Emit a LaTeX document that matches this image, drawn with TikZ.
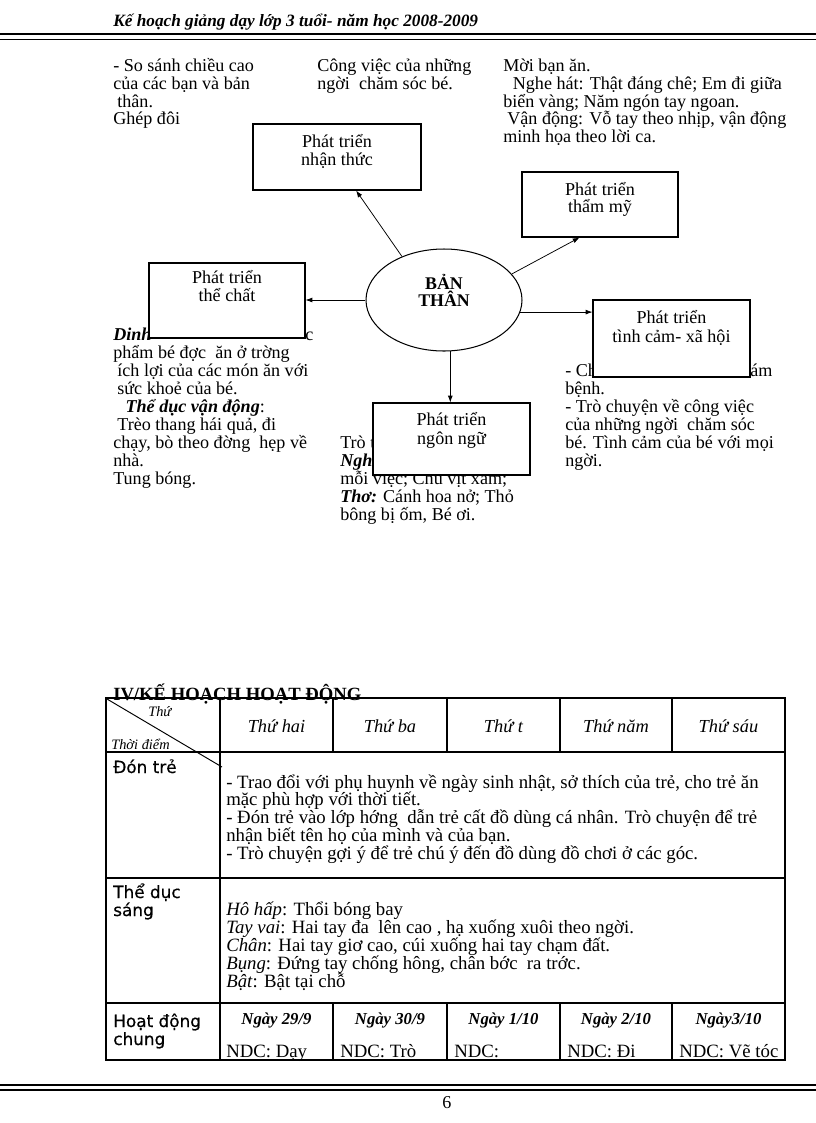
\documentclass[tikz,border=0pt]{standalone}
\usepackage{fontspec}
\setmainfont{Liberation Serif}
\newfontfamily\labfont[FakeBold=0.6]{DejaVu Sans}
\usetikzlibrary{arrows.meta,calc,shapes.geometric}
\begin{document}
\begin{tikzpicture}[x=0.7295pt,y=-0.7295pt,
  txt/.style={anchor=base west,inner sep=0pt,font=\fontsize{13.2}{15}\selectfont},
  ttxt/.style={anchor=base west,inner sep=0pt,font=\fontsize{13.7}{15}\selectfont},
  ctr/.style={anchor=base,inner sep=0pt,font=\fontsize{13.2}{15}\selectfont},
  boxn/.style={draw,fill=white,line width=0.75pt,inner sep=0pt,rectangle},
  arr/.style={-{Latex[length=5pt,width=3.6pt]},line width=0.55pt},
  tline/.style={line width=0.9pt},
  lab/.style={anchor=base west,inner sep=0pt,font=\labfont\fontsize{12.3}{14}\selectfont},
  hdr/.style={anchor=base,inner sep=0pt,font=\itshape\fontsize{13.4}{15}\selectfont},
  day/.style={anchor=base,inner sep=0pt,font=\bfseries\itshape\fontsize{12.2}{14}\selectfont},
  bi/.style={font=\bfseries\itshape\fontsize{13.2}{15}\selectfont},
]
\useasboundingbox (0,0) rectangle (816,1123);

% ---------- page header ----------
\node[txt,font=\bfseries\itshape\fontsize{12.6}{14}\selectfont] (title) at (113,26) {Kế hoạch giảng dạy lớp 3 tuổi- năm học 2008-2009};
\draw[line width=2pt] (0,34) -- (816,34);
\draw[line width=0.9pt] (0,39.3) -- (816,39.3);

% ---------- top text columns ----------
\foreach \t [count=\i] in {{- So sánh chiều cao},{của các bạn và bản},{\hspace*{3pt}thân.},{Ghép đôi}}
  \node[txt] (a\i) at (113,{71.5+17.8*(\i-1)}) {\t};
\foreach \t [count=\i] in {{Công việc của những},{ngời\ \ chăm sóc bé.}}
  \node[txt] (m\i) at (317,{71.5+17.8*(\i-1)}) {\t};
\foreach \t [count=\i] in {{Mời bạn ăn.},{\hspace*{7pt}Nghe hát: Thật đáng chê; Em đi giữa},{biển vàng; Năm ngón tay ngoan.},{\hspace*{3pt}Vận động: Vỗ tay theo nhịp, vận động},{minh họa theo lời ca.}}
  \node[txt] (r\i) at (503,{71.5+17.8*(\i-1)}) {\t};

% ---------- lower text columns ----------
\node[txt,bi] (l0) at (113,340.6) {Dinh};
\node[txt] (l0b) at (305,340.6) {c};
\foreach \t [count=\i] in {{phẩm bé đợc\ \ ăn ở trờng},{\hspace*{3pt}ích lợi của các món ăn với},{\hspace*{3pt}sức khoẻ của bé.},{\hspace*{9pt}\textbf{\textit{Thể dục vận động}}:},{\hspace*{3pt}Trèo thang hái quả, đi},{chạy, bò theo đờng\ \ hẹp về},{nhà.},{Tung bóng.}}
  \node[txt] (l\i) at (113,{340.6+18*\i}) {\t};

\node[txt] (n0) at (340,448.6) {Trò t};
\node[txt,bi] (n0b) at (340,466.6) {Ngh};
\foreach \t [count=\i] in {{mỗi việc; Chú vịt xám;},{\textbf{\textit{Thơ:}} Cánh hoa nở; Thỏ},{bông bị ốm, Bé ơi.}}
  \node[txt] (n\i) at (340,{466.6+18*\i}) {\t};

\node[txt] (s0) at (565,376.6) {- Ch};
\node[txt] (s0b) at (750,376.6) {ám};
\foreach \t [count=\i] in {{bệnh.},{- Trò chuyện về công việc},{của những ngời\ \ chăm sóc},{bé. Tình cảm của bé với mọi},{ngời.}}
  \node[txt] (s\i) at (565,{376.6+18*\i}) {\t};

% ---------- mind map ----------
\node[boxn,minimum width={168*0.7295pt},minimum height={66*0.7295pt}] (nt) at (337,157) {};
\node[boxn,minimum width={156*0.7295pt},minimum height={65*0.7295pt}] (tm) at (600,204.5) {};
\node[boxn,minimum width={156*0.7295pt},minimum height={75*0.7295pt}] (tc) at (227,300.5) {};
\node[boxn,minimum width={157*0.7295pt},minimum height={77*0.7295pt}] (tx) at (671.5,338.5) {};
\node[boxn,minimum width={157*0.7295pt},minimum height={72*0.7295pt}] (nn) at (451.5,439) {};
\node[draw,ellipse,fill=white,line width=0.75pt,inner sep=0pt,minimum width={156*0.7295pt},minimum height={102*0.7295pt}] (ell) at (444,300) {};

\node[ctr] (nt1) at (337,147) {Phát triển};
\node[ctr] (nt2) at (337,165) {nhận thức};
\node[ctr] (tm1) at (600,195) {Phát triển};
\node[ctr] (tm2) at (600,212) {thẩm mỹ};
\node[ctr] (tc1) at (227,283) {Phát triển};
\node[ctr] (tc2) at (227,301) {thể chất};
\node[ctr] (tx1) at (671.5,323) {Phát triển};
\node[ctr] (tx2) at (671.5,342) {tình cảm- xã hội};
\node[ctr] (nn1) at (451.5,425) {Phát triển};
\node[ctr] (nn2) at (451.5,444) {ngôn ngữ};
\node[ctr,font=\bfseries\fontsize{13}{15}\selectfont] (e1) at (444,289) {BẢN};
\node[ctr,font=\bfseries\fontsize{13}{15}\selectfont] (e2) at (444,306) {THÂN};

\draw[arr] (ell.134) -- ($(nt.south west)!0.613!(nt.south east)$);
\draw[arr] (ell.21) -- ($(tm.south west)!0.37!(tm.south east)$);
\draw[arr] (ell.west) -- (ell.west -| tc.east);
\draw[arr] (ell.-9.5) -- (ell.-9.5 -| tx.west);
\draw[arr] (ell.-83.3) -- (ell.-83.3 |- nn.north);

% ---------- plan table ----------
\node[txt,font=\bfseries\fontsize{13.6}{15}\selectfont] (iv) at (113,700) {IV/KẾ HOẠCH HOẠT ĐỘNG};
\draw[tline] (106,698) rectangle (785,1060);
\draw[tline] (106,752) -- (785,752);
\draw[tline] (106,878) -- (785,878);
\draw[tline] (106,1003) -- (785,1003);
\draw[tline] (220,698) -- (220,1060);
\foreach \x in {333,447,560,672} {
  \draw[tline] (\x,698) -- (\x,752);
  \draw[tline] (\x,1003) -- (\x,1060);
}
\draw[line width=0.7pt] (107,699) -- (222,767);

\node[txt,font=\itshape\fontsize{10.5}{12}\selectfont] (th0) at (148,716) {Thứ};
\node[txt,font=\itshape\fontsize{10.5}{12}\selectfont] (td0) at (111,749) {Thời điểm};
\node[hdr] (h1) at (276.5,732) {Thứ hai};
\node[hdr] (h2) at (390,732) {Thứ ba};
\node[hdr] (h3) at (503.5,732) {Thứ t};
\node[hdr] (h4) at (616,732) {Thứ năm};
\node[hdr] (h5) at (728.5,732) {Thứ sáu};

\node[lab] (rl1) at (113,773) {Đón trẻ};
\node[lab] (rl2) at (113,898) {Thể dục};
\node[lab] (rl3) at (113,916) {sáng};
\node[lab] (rl4) at (113,1027) {Hoạt động};
\node[lab] (rl5) at (113,1045) {chung};

\foreach \t [count=\i] in {{- Trao đổi với phụ huynh về ngày sinh nhật, sở thích của trẻ, cho trẻ ăn},{mặc phù hợp với thời tiết.},{- Đón trẻ vào lớp hớng\ \ dẫn trẻ cất đồ dùng cá nhân. Trò chuyện để trẻ},{nhận biết tên họ của mình và của bạn.},{- Trò chuyện gợi ý để trẻ chú ý đến đồ dùng đồ chơi ở các góc.}}
  \node[ttxt] (d\i) at (226,{788+17.75*(\i-1)}) {\t};

\foreach \t [count=\i] in {{\textit{Hô hấp}: Thổi bóng bay},{\textit{Tay vai}: Hai tay đa\ \ lên cao , hạ xuống xuôi theo ngời.},{\textit{Chân}: Hai tay giơ cao, cúi xuống hai tay chạm đất.},{\textit{Bụng}: Đứng tay chống hông, chân bớc\ \ ra trớc.},{\textit{Bật}: Bật tại chỗ}}
  \node[ttxt] (g\i) at (226,{915+18*(\i-1)}) {\t};

\node[day] (y1) at (276.5,1024) {Ngày 29/9};
\node[day] (y2) at (390,1024) {Ngày 30/9};
\node[day] (y3) at (503.5,1024) {Ngày 1/10};
\node[day] (y4) at (616,1024) {Ngày 2/10};
\node[day] (y5) at (728.5,1024) {Ngày3/10};
\node[ttxt] (c1) at (226,1057) {NDC: Dạy};
\node[ttxt] (c2) at (340,1057) {NDC: Trò};
\node[ttxt] (c3) at (454,1057) {NDC:};
\node[ttxt] (c4) at (567,1057) {NDC: Đi};
\node[ttxt] (c5) at (679,1057) {NDC: Vẽ tóc};

% ---------- page footer ----------
\draw[line width=2pt] (0,1085) -- (816,1085);
\draw[line width=0.9pt] (0,1090) -- (816,1090);
\node[ctr] (pg) at (447,1108) {6};
\end{tikzpicture}
\end{document}
